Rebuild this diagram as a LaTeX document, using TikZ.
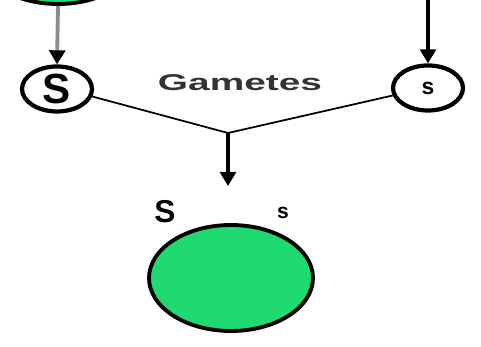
\documentclass[tikz,border=0pt]{standalone}
\usepackage{fontspec}
\setmainfont{Liberation Sans}
\usetikzlibrary{positioning, arrows.meta, shapes.geometric}
\definecolor{cellgreen}{RGB}{30,218,112}

\begin{document}
\begin{tikzpicture}[
      gamete/.style={draw, ellipse, line width=2.4pt, fill=white,
          minimum width=1.4cm, minimum height=0.9cm, inner sep=0pt},
      cell/.style={draw, ellipse, line width=2.2pt, fill=cellgreen,
          inner sep=0pt},
      lbl/.style={font=\bfseries},
      arr/.style={-{Triangle[length=8pt, width=9pt, black]}, line width=2.2pt},
      fuse/.style={line width=1pt},
    ]
    \useasboundingbox (0,0) rectangle (9.62,-6.94);

    %% --- Parents (top, cut off) ---
    \node[cell, minimum width=2.8cm, minimum height=1.52cm] (parentL) at (1.16,0.68) {};
    \coordinate (parentR) at (8.56,0);

    %% --- Gametes ---
    \node[gamete] (gamS) at (1.14,-1.78) {\fontsize{24}{24}\selectfont\bfseries S};
    \node[gamete] (gams) at (8.56,-1.76) {\fontsize{13}{13}\selectfont\bfseries s};
    \node[lbl, xscale=1.7, text=black!80] (gametes) at (4.8,-1.66) {\fontsize{13}{13}\selectfont Gametes};

    \draw[arr, black!45] (parentL.south) -- (gamS.north);
    \draw[arr] (parentR) -- (gams.north);

    %% --- Fertilisation ---
    \coordinate (meet) at (4.56,-2.66);
    \coordinate (tip)  at (4.56,-3.72);
    \draw[fuse] (gamS.-12) -- (meet) -- (gams.192);
    \draw[arr] (meet) -- (tip);

    %% --- Offspring ---
    \node[lbl] (alleleS) at (3.3,-4.24) {\fontsize{18}{18}\selectfont S};
    \node[lbl] (alleles) at (5.66,-4.26) {\fontsize{12}{12}\selectfont s};
    \node[cell, minimum width=3.28cm, minimum height=2.12cm] (zygote) at (4.62,-5.56) {};

  \end{tikzpicture}
\end{document}
